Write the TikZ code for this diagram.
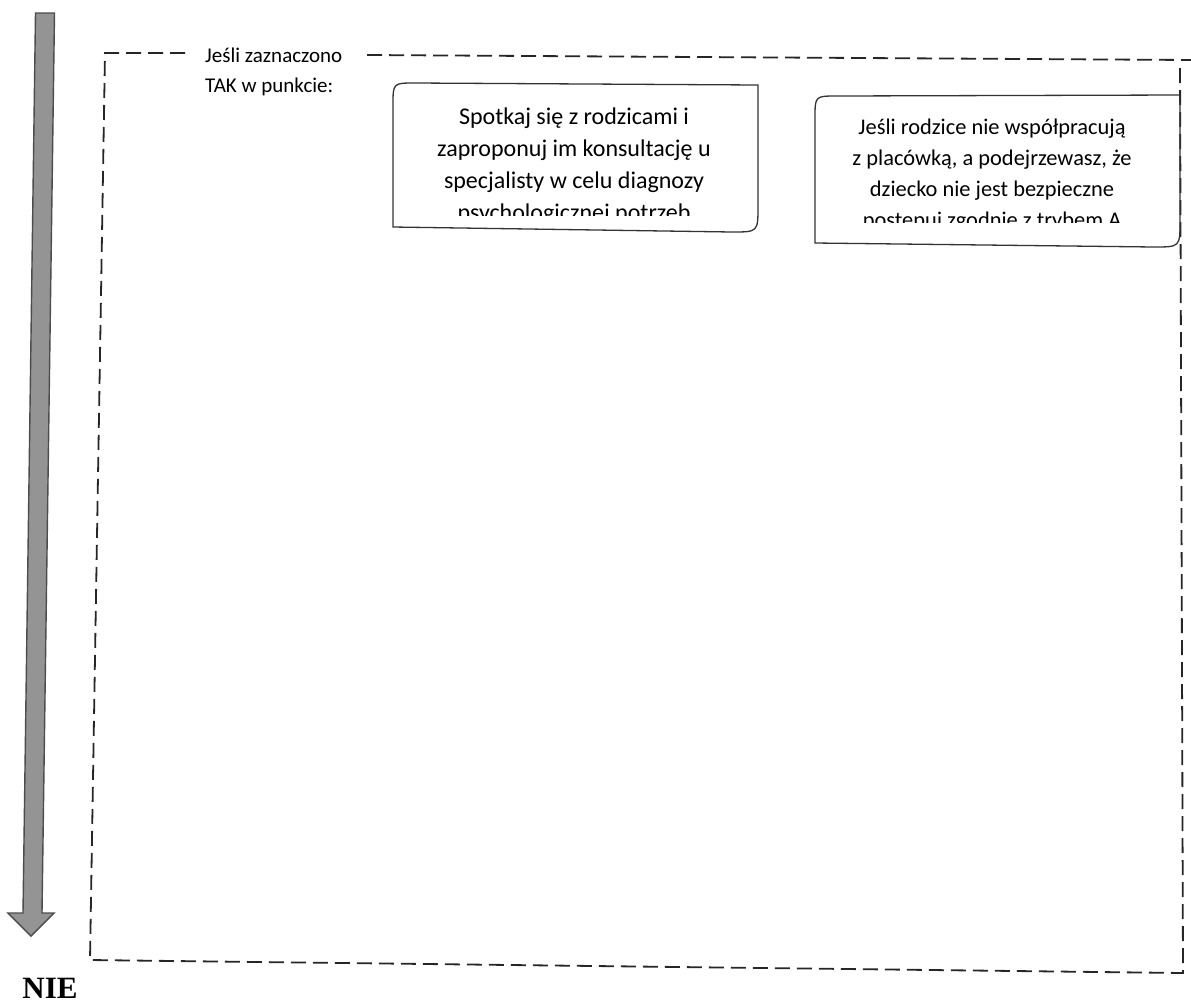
\documentclass[tikz,border=0pt]{standalone}
\usepackage{fontspec}
\setmainfont{Carlito}
\newfontfamily\headfont{Liberation Serif}
\usetikzlibrary{positioning}
\tikzset{
  frameline/.style={line width=1.8pt, dash pattern=on 15pt off 7pt, black!85},
  stepbox/.style={line width=1.3pt, black!80},
  boxtext/.style={align=center, inner sep=0pt, font=\fontsize{24}{32}\selectfont},
  downarrow/.style={fill=black!42, draw=black!70, line width=1.4pt, line join=miter},
}
\begin{document}
\begin{tikzpicture}[x=1pt,y=-1pt]
        \useasboundingbox (0,0) rectangle (1191,1005);

        \draw[downarrow] (35.5,13) -- (54.5,13) -- (42,913) -- (54,913) -- (31,936) -- (8,913) -- (23,913) -- cycle;
        \node[font=\headfont\bfseries\fontsize{31}{31}\selectfont, inner sep=0pt] (nie) at (50,988) {NIE};

        \draw[frameline] (185,53) -- (105,53) -- (90,960) -- (1183,973) -- (1180,62);
        \draw[frameline] (367,55) -- (1191,60);
        \node[anchor=north west, align=left, inner sep=0pt, font=\fontsize{21}{29.5}\selectfont] (ifyes) at (205,48) {Jeśli zaznaczono\\TAK w punkcie:};

        \begin{scope}
          \clip (393,83) rectangle (758,215);
          \node[boxtext, anchor=north] (meet) at (574,108) {Spotkaj się z rodzicami i\\zaproponuj im konsultację u\\specjalisty w celu diagnozy\\psychologicznej potrzeb};
        \end{scope}
        \draw[stepbox] (393,227) -- (393,105) .. controls (393,83) .. (415,83) -- (758,85) -- (758,206) .. controls (758,232) .. (732,232) -- cycle;

        \begin{scope}
          \clip (815,95) rectangle (1180,222);
          \node[boxtext, anchor=north, font=\fontsize{22.4}{31}\selectfont] (notsafe) at (992,119) {Jeśli rodzice nie współpracują\\z placówką, a podejrzewasz, że\\dziecko nie jest bezpieczne\\postępuj zgodnie z trybem A};
        \end{scope}
        \draw[stepbox] (815,243) -- (815,118) .. controls (815,96) .. (837,96) -- (1180,95) -- (1180,221) .. controls (1180,247) .. (1154,247) -- cycle;
      \end{tikzpicture}
\end{document}
